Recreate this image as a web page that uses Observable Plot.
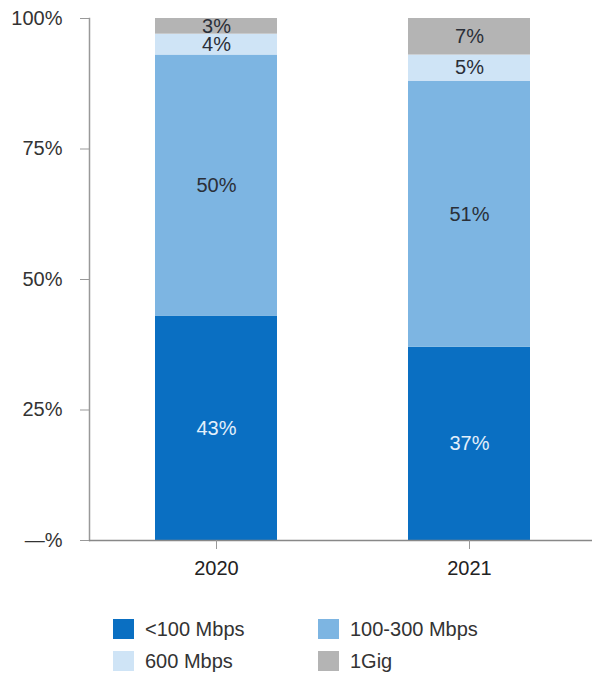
<!DOCTYPE html>
<html>
<head>
<meta charset="utf-8">
<script src="https://cdn.jsdelivr.net/npm/d3@7"></script>
<script src="https://cdn.jsdelivr.net/npm/@observablehq/plot@0.6"></script>
<style>
  html, body { margin: 0; padding: 0; background: #fff; }
  body { width: 592px; height: 675px; overflow: hidden; font-family: "Liberation Sans", Arial, sans-serif; }
  #legend { position: relative; height: 65px; }
  .item { position: absolute; display: flex; align-items: center; font-size: 20px; color: #333; height: 22px; }
  .sw { width: 21px; height: 20px; margin-right: 11px; }
</style>
</head>
<body>
<div id="chart"></div>
<div id="legend"></div>
<script>
const years = ["2020", "2021"];
const categories = ["<100 Mbps", "100-300 Mbps", "600 Mbps", "1Gig"];
const values2020 = [43, 50, 4, 3];
const values2021 = [37, 51, 5, 7];
const colors = ["#0a6fc2", "#7db5e2", "#cfe4f6", "#b4b4b4"];
const yTicks = [0, 25, 50, 75, 100];
const yTickLabels = ["—%", "25%", "50%", "75%", "100%"];

const seriesByYear = {"2020": values2020, "2021": values2021};
const data = [];
for (const yr of years) {
  categories.forEach((c, i) => data.push({year: yr, cat: c, value: seriesByYear[yr][i], idx: i}));
}

const chart = Plot.plot({
  width: 592,
  height: 610,
  marginTop: 18,
  marginBottom: 70,
  marginLeft: 89,
  marginRight: 0,
  style: {fontFamily: "Liberation Sans, Arial, sans-serif", fontSize: "20px", color: "#333", background: "#fff"},
  x: {domain: years, range: [89, 596], paddingInner: 0.518, paddingOuter: 0.26, label: null},
  y: {domain: [0, 100], label: null},
  color: {domain: categories, range: colors},
  marks: [
    Plot.barY(data, {x: "year", y: "value", fill: "cat", z: "cat", order: categories}),
    Plot.text(data, Plot.stackY({x: "year", y: "value", z: "cat", order: categories,
      text: d => d.idx === 0 ? d.value + "%" : null, fill: "#e3f0fb", fontSize: 20})),
    Plot.text(data, Plot.stackY({x: "year", y: "value", z: "cat", order: categories,
      text: d => d.idx !== 0 ? d.value + "%" : null, fill: "#2a2f38", fontSize: 20})),
    Plot.frame({anchor: "left", stroke: "#999", strokeWidth: 1.5}),
    Plot.ruleY([0], {stroke: "#888", strokeWidth: 1.5}),
    Plot.axisY({ticks: yTicks, tickFormat: (d) => yTickLabels[yTicks.indexOf(d)], tickSize: 9, tickPadding: 18, stroke: "#999", fill: "#333", fontSize: 20, label: null}),
    Plot.axisX({tickSize: 9, tickPadding: 11, stroke: "#999", fill: "#222", fontSize: 20, label: null})
  ]
});
document.getElementById("chart").appendChild(chart);

const legend = document.getElementById("legend");
const positions = [[113, 8], [318, 8], [113, 40], [318, 40]];
categories.forEach((c, i) => {
  const it = document.createElement("div");
  it.className = "item";
  it.style.left = positions[i][0] + "px";
  it.style.top = positions[i][1] + "px";
  const sw = document.createElement("span");
  sw.className = "sw";
  sw.style.background = colors[i];
  const tx = document.createElement("span");
  tx.textContent = c;
  it.appendChild(sw);
  it.appendChild(tx);
  legend.appendChild(it);
});
</script>
</body>
</html>
